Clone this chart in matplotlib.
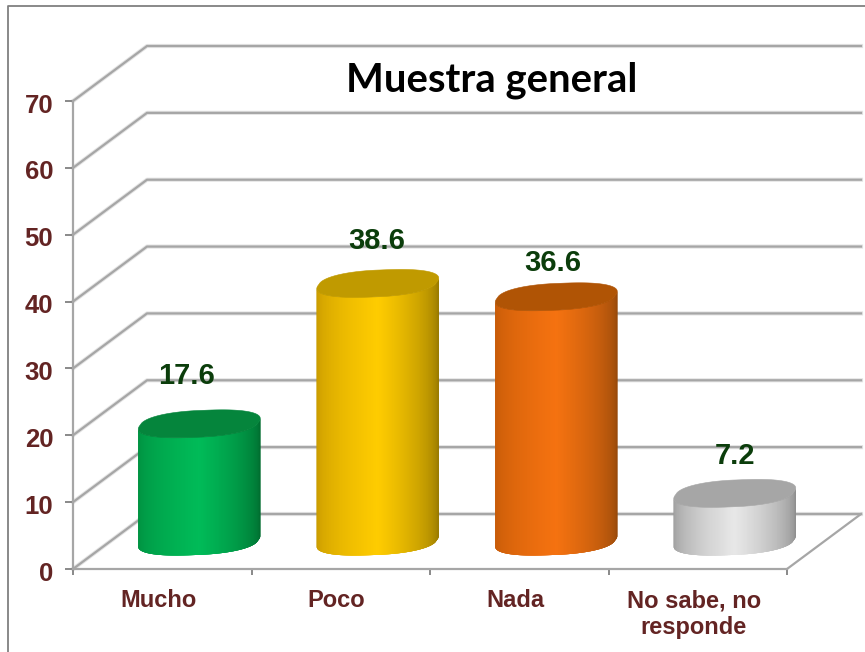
import numpy as np
import matplotlib
matplotlib.use("Agg")
import matplotlib.pyplot as plt
from matplotlib.collections import PolyCollection
from matplotlib.lines import Line2D
from matplotlib.transforms import ScaledTranslation

categories = ["Mucho", "Poco", "Nada", "No sabe, no\nresponde"]
values = [17.6, 38.6, 36.6, 7.2]
value_labels = ["17.6", "38.6", "36.6", "7.2"]
y_ticks = [0, 10, 20, 30, 40, 50, 60, 70]
title = "Muestra general"

# shading per bar: left edge, centre, right edge, top cap
bar_left = ["#009040", "#c89a00", "#c45a08", "#9c9c9c"]
bar_mid = ["#00bb58", "#ffcc00", "#f57210", "#e8e8e8"]
bar_right = ["#006a2e", "#947600", "#94480a", "#8c8c8c"]
bar_top = ["#05853c", "#c09a00", "#b05405", "#a6a6a6"]
label_offsets_px = [(-13, 75), (-1, 70), (-3, 61), (0, 65)]

W, H = 865, 652
fig = plt.figure(figsize=(W / 100, H / 100), dpi=100, facecolor="white")
LEFT, RIGHT, BOTTOM, TOP = 73, 787, 569, 101
ax = fig.add_axes([LEFT / W, 1 - BOTTOM / H, (RIGHT - LEFT) / W, (BOTTOM - TOP) / H])
ax.set_xlim(0, 4)
ax.set_ylim(0, 70)
ax.patch.set_alpha(0)

PX_X = 4 / (RIGHT - LEFT)
PX_Y = 70 / (BOTTOM - TOP)
DX, DY = 74 * PX_X, 55 * PX_Y     # depth of the 3D box in data units
GRID = "#a6a6a6"
TXT = "#632423"

# grid on floor/side wall/back wall
for v in y_ticks:
    xs = [0, DX, 4 + DX]
    ys = [v, v + DY, v + DY]
    ax.plot(xs, ys, color="#e4e4e4", lw=3.0, clip_on=False, zorder=1, solid_joinstyle="round")
    ax.plot(xs, ys, color=GRID, lw=1.6, clip_on=False, zorder=1.1, solid_joinstyle="round")
ax.plot([4, 4 + DX], [0, DY], color=GRID, lw=1.6, clip_on=False, zorder=1.1)

# cylinders
RX, RY, PHI, P = 61 * PX_X, 14 * PX_Y, 0.33, 0.85
def rgb(c):
    return np.array(matplotlib.colors.to_rgb(c))
def spow(a):
    return np.sign(a) * np.abs(a) ** P

t = np.linspace(np.pi, 0, 161)
for i, val in enumerate(values):
    cx = i + 0.5 + DX / 2
    y0 = DY / 2
    y1 = val + DY / 2
    xa = cx + RX * spow(np.cos(t))
    low = RY * spow(np.sin(PHI - t))
    polys, cols = [], []
    n = len(t) - 1
    for k in range(n):
        f = (xa[k] + xa[k + 1]) / 2
        f = (f - (cx - RX)) / (2 * RX)
        g = np.clip(1 - abs(f - 0.5) / 0.5, 0, 1) ** 0.55
        c0 = rgb(bar_left[i]) if f < 0.5 else rgb(bar_right[i])
        c = c0 + (rgb(bar_mid[i]) - c0) * g
        e = min(k + 4, n)   # each strip runs under the next ones, so no seams show
        polys.append(list(zip(xa[k:e + 1], y0 + low[k:e + 1]))
                     + list(zip(xa[k:e + 1][::-1], y1 + low[k:e + 1][::-1])))
        cols.append(c)
    pc = PolyCollection(polys, facecolors=cols, edgecolors="none", linewidths=0,
                        clip_on=False, zorder=3)
    ax.add_collection(pc)
    tt = np.linspace(0, 2 * np.pi, 361)
    ax.fill(cx + RX * spow(np.cos(tt)), y1 + RY * spow(np.sin(tt + PHI)), color=bar_top[i],
            lw=0.4, clip_on=False, zorder=4)
    dx_px, dy_px = label_offsets_px[i]
    ax.annotate(value_labels[i], (i + 0.5 + DX / 2, val), xytext=(dx_px * 0.72, dy_px * 0.72),
                textcoords="offset points", ha="center", va="center",
                family="Liberation Sans", weight="bold", fontsize=21,
                color="#0b3d0b", zorder=6, annotation_clip=False)

# axes
for s in ["top", "right"]:
    ax.spines[s].set_visible(False)
for s in ["left", "bottom"]:
    ax.spines[s].set_color(GRID)
    ax.spines[s].set_linewidth(1.6)
    ax.spines[s].set_zorder(2)
ax.set_yticks(y_ticks)
ax.set_xticks(range(5))
ax.set_xticklabels([])
ax.tick_params(axis="y", length=5.8, width=1.3, color="#808080", pad=8.5,
               labelcolor=TXT, labelsize=18.5)
ax.tick_params(axis="x", length=4, width=1.3, color="#808080")
shift = ScaledTranslation(0, -1.5 / 72, fig.dpi_scale_trans)
for lab in ax.get_yticklabels():
    lab.set_family("Liberation Sans")
    lab.set_weight("bold")
    lab.set_transform(lab.get_transform() + shift)

for i, c in enumerate(categories):
    ax.annotate(c, (i + 0.5, 0), xytext=(-3, -14.5), textcoords="offset points",
                ha="center", va="top", family="Liberation Sans", weight="bold",
                fontsize=17, color=TXT, linespacing=1.2, annotation_clip=False)

ax.text((492 - LEFT) / (RIGHT - LEFT), 1.0 + (101 - 80) / (BOTTOM - TOP), title,
        transform=ax.transAxes, ha="center", va="center", family="Lato", weight="bold",
        fontsize=28.8, color="black", zorder=6)

# outer frame
fig.add_artist(Line2D([8 / W, 8 / W, 1], [0, 1 - 6 / H, 1 - 6 / H],
                      transform=fig.transFigure, color="#808080", lw=1.3))

fig.savefig("out.png", dpi=100)
